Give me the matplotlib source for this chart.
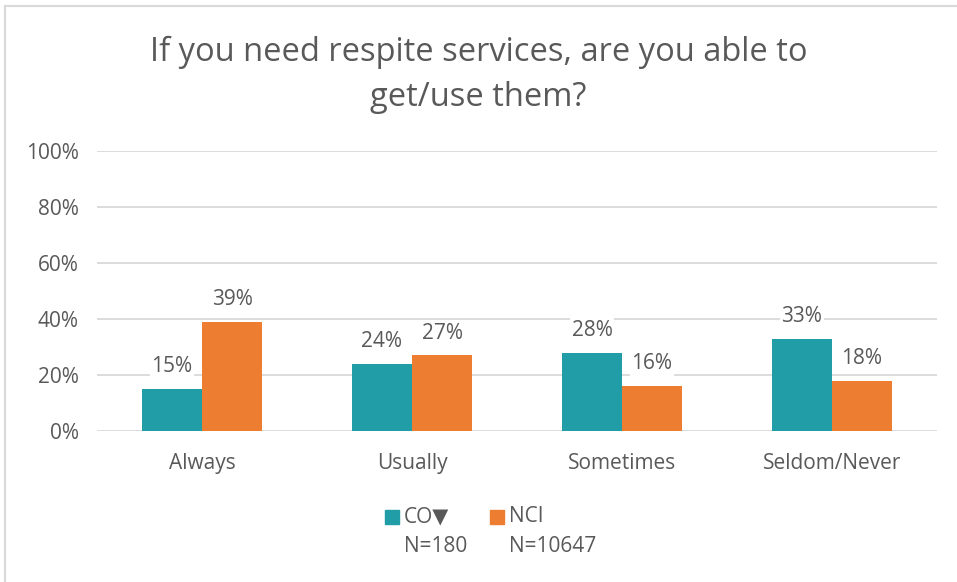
import numpy as np
import matplotlib
matplotlib.use('Agg')
import matplotlib.pyplot as plt
from matplotlib.patches import Rectangle
from matplotlib.lines import Line2D

# data
categories = ['Always', 'Usually', 'Sometimes', 'Seldom/Never']
co_vals = [15, 24, 28, 33]
nci_vals = [39, 27, 16, 18]
series_names = ['CO\u25BC', 'NCI']
series_n = ['N=180', 'N=10647']
yticks = [0, 20, 40, 60, 80, 100]

teal = '#219DA7'
orange = '#ED7D31'
txt = '#595959'
fs = 15

plt.rcParams['font.family'] = ['Open Sans', 'DejaVu Sans']

fig = plt.figure(figsize=(9.57, 5.82), dpi=100)
ax = fig.add_axes([97/957, 151/582, 840/957, 280/582])

x = np.arange(len(categories))
w = 0.286
ax.bar(x - w/2, co_vals, w, color=teal, zorder=3)
ax.bar(x + w/2, nci_vals, w, color=orange, zorder=3)

# data labels with white box over gridlines
for xs, vals in [(x - w/2, co_vals), (x + w/2, nci_vals)]:
    for xi, v in zip(xs, vals):
        ax.annotate(f'{v}%', (xi, v), xytext=(0, 16), textcoords='offset points',
                    ha='center', va='center', fontsize=fs, color=txt, zorder=4,
                    bbox=dict(fc='white', ec='none', pad=1))

ax.set_xlim(-0.5, len(categories) - 0.5)
ax.set_ylim(0, 100)
ax.set_yticks(yticks)
ax.set_yticklabels([f'{t}%' for t in yticks])
ax.set_xticks(x)
ax.set_xticklabels(categories)
ax.tick_params(axis='both', length=0, colors=txt, labelsize=fs)
ax.tick_params(axis='y', pad=13)
ax.tick_params(axis='x', pad=16)
ax.grid(axis='y', color='#D9D9D9', linewidth=1.3, zorder=0)
for s in ax.spines.values():
    s.set_visible(False)

fig.text(0.5, 1 - 75/582, 'If you need respite services, are you able to\nget/use them?',
         ha='center', va='center', fontsize=23.5, color=txt, linespacing=1.45)

# legend drawn by hand (two-line labels)
leg_x = [385, 490]
for lx, col, name, n in zip(leg_x, [teal, orange], series_names, series_n):
    fig.add_artist(Rectangle((lx/957, (582-524)/582), 14/957, 14/582,
                             transform=fig.transFigure, color=col))
    fig.text((lx + 19)/957, (582-517)/582, name, ha='left', va='center',
             fontsize=fs, color=txt, family=['Open Sans', 'DejaVu Sans'])
    fig.text((lx + 19)/957, (582-546)/582, n, ha='left', va='center',
             fontsize=fs, color=txt)

# chart border (top and left)
fig.add_artist(Line2D([5/957, 1], [1 - 6/582, 1 - 6/582], transform=fig.transFigure,
                      color='#D9D9D9', linewidth=1.5))
fig.add_artist(Line2D([5/957, 5/957], [0, 1 - 6/582], transform=fig.transFigure,
                      color='#D9D9D9', linewidth=1.5))

fig.savefig('out.png', dpi=100)
